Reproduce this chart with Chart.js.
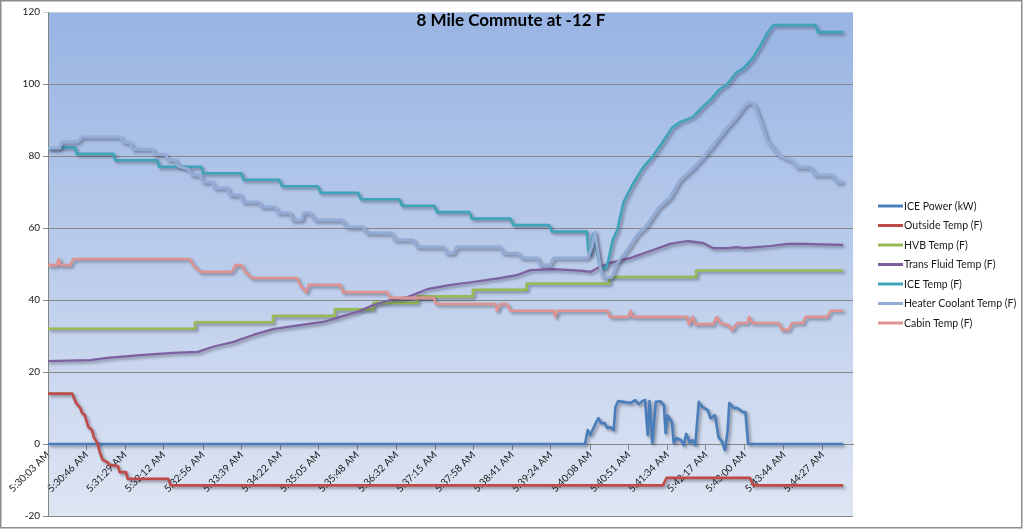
<!DOCTYPE html>
<html>
<head>
<meta charset="utf-8">
<title>8 Mile Commute at -12 F</title>
<script src="https://cdn.jsdelivr.net/npm/chart.js@4.4.1/dist/chart.umd.min.js"></script>
<style>
  html, body { margin: 0; padding: 0; background: #fff; }
  #wrap { width: 1024px; height: 530px; }
</style>
</head>
<body>
<div id="wrap"><canvas id="grafica" width="1024" height="530"></canvas></div>
<script>
// Etiquetas del eje X (hora del registro)
const tickLabels = ["5:30:03 AM", "5:30:46 AM", "5:31:29 AM", "5:32:12 AM", "5:32:56 AM", "5:33:39 AM",
  "5:34:22 AM", "5:35:05 AM", "5:35:48 AM", "5:36:32 AM", "5:37:15 AM", "5:37:58 AM", "5:38:41 AM",
  "5:39:24 AM", "5:40:08 AM", "5:40:51 AM", "5:41:34 AM", "5:42:17 AM", "5:43:00 AM", "5:43:44 AM", "5:44:27 AM"];

const seriesNames = ["ICE Power (kW)", "Outside Temp (F)", "HVB Temp (F)", "Trans Fluid Temp (F)",
  "ICE Temp (F)", "Heater Coolant Temp (F)", "Cabin Temp (F)"];

// Datos: [segundos desde 5:30:03, valor]
const icePower = [[0, 0], [599, 0], [602, 3.9], [605, 2.5], [610, 5.3], [614, 7.2], [617, 5.8], [621, 5.8],
  [624, 4.4], [627, 4.7], [631, 3.9], [633, 10.3], [636, 11.9], [642, 11.7], [650, 11.4], [655, 12.2],
  [659, 11.1], [663, 11.9], [666, 12.2], [669, 2.5], [671, 11.9], [674, 0.3], [678, 11.7], [683, 11.9],
  [687, 10.8], [689, 3], [691, 8], [696, 6.1], [698, 0.3], [701, 1.7], [706, 1.1], [709, -0.3], [712, 2.8],
  [716, 0.3], [719, 1.1], [722, -0.3], [726, 11.7], [730, 10.3], [736, 9.4], [739, 7.2], [744, 8],
  [748, 1.9], [752, 0.6], [755, -1.7], [758, 3.3], [760, 11.4], [765, 10], [769, 10], [775, 8.9],
  [778, 8.9], [781, 0], [887, 0]];

const outsideTemp = [[0, 14], [27, 14], [31, 11.5], [36, 10], [38, 8.6], [41, 8], [45, 4.7], [49, 3.9],
  [51, 1.9], [55, 0.3], [58, -2.5], [61, -4.4], [66, -5], [69, -5.8], [78, -6.1], [80, -7.8], [87, -7.8],
  [89, -9.7], [134, -9.7], [137, -11.5], [686, -11.5], [690, -9.4], [783, -9.4], [787, -11.5], [887, -11.5]];

const hvbTemp = [[0, 32], [164, 33.8], [251, 35.6], [320, 37.4], [363, 39.2], [412, 41], [474, 42.8],
  [534, 44.6], [626, 46.4], [723, 48.2], [887, 48.2]];

const transFluidTemp = [[0, 23], [47, 23.3], [66, 23.9], [103, 24.7], [140, 25.3], [167, 25.6], [184, 27],
  [206, 28.3], [229, 30.3], [251, 31.9], [281, 33], [307, 33.9], [326, 35.3], [345, 36.7], [363, 38.6],
  [382, 40], [401, 40.8], [423, 43], [449, 44.2], [474, 45], [504, 46.1], [523, 46.9], [538, 48.3],
  [564, 48.6], [597, 48.1], [605, 47.8], [613, 48.9], [627, 50.3], [650, 51.7], [675, 53.9], [694, 55.6],
  [713, 56.4], [731, 55.8], [742, 54.4], [758, 54.4], [769, 54.7], [776, 54.4], [806, 55], [825, 55.6],
  [843, 55.6], [887, 55.3]];

const iceTemp = [[0, 82], [12, 82], [14, 82.4], [30, 82.4], [32, 80.6], [73, 80.6], [75, 78.8],
  [122, 78.8], [124, 77], [171, 77], [173, 75.2], [216, 75.2], [218, 73.4], [258, 73.4], [261, 71.6],
  [301, 71.6], [304, 69.8], [346, 69.8], [349, 68], [392, 68], [395, 66.2], [431, 66.2], [434, 64.4],
  [470, 64.4], [473, 62.6], [516, 62.6], [519, 60.8], [559, 60.8], [562, 59], [601, 59], [603, 53.3],
  [605, 52.5], [608, 58.3], [613, 52.5], [616, 49.4], [622, 48.6], [625, 51], [630, 56.7], [635, 59.4],
  [642, 67.2], [653, 72.5], [664, 76.9], [674, 79.7], [685, 83.6], [696, 87.8], [705, 89.4], [719, 90.8],
  [730, 93.6], [739, 95.6], [748, 98.3], [758, 100], [767, 103], [776, 104.4], [786, 107.2], [795, 110.8],
  [803, 114.4], [809, 116.4], [856, 116.4], [859, 114.4], [887, 114.4]];

const heaterCoolantTemp = [[0, 82.2], [13, 82.2], [15, 83.9], [33, 83.9], [38, 85.3], [80, 85.3],
  [84, 83.9], [92, 83.6], [95, 81.9], [116, 81.9], [119, 80.4], [131, 80.4], [134, 78.9], [142, 78.9],
  [145, 77.2], [156, 76.4], [161, 74.7], [170, 74.7], [173, 72.8], [183, 72.8], [186, 71.1], [200, 71.1],
  [203, 69.2], [214, 69.2], [218, 67.2], [234, 67.2], [239, 65.8], [253, 65.8], [257, 64.2], [270, 64.2],
  [273, 62.2], [283, 62.2], [285, 64.2], [292, 64.2], [298, 62.2], [328, 62.2], [333, 60.3], [351, 60.3],
  [356, 58.6], [383, 58.6], [387, 56.7], [407, 56.7], [412, 54.7], [441, 54.7], [445, 53], [452, 53],
  [456, 54.7], [504, 54.7], [508, 53], [524, 53], [529, 51.7], [546, 51.7], [549, 49.7], [560, 49.7],
  [564, 51.7], [602, 51.7], [607, 55], [610, 58.9], [616, 49.2], [619, 46.4], [624, 46.1], [629, 46.4],
  [635, 50.3], [646, 53.9], [657, 58], [668, 60.8], [681, 65.6], [694, 68.6], [705, 73.3], [720, 76.7],
  [731, 79.7], [742, 83], [755, 87.2], [767, 90.6], [776, 93.6], [780, 94.7], [786, 94.7], [789, 93.6],
  [797, 88.1], [802, 84.4], [809, 82.2], [815, 80.3], [822, 79.4], [828, 78.9], [836, 76.9], [850, 76.9],
  [856, 74.7], [874, 74.7], [880, 72.8], [887, 72.8]];

const cabinTemp = [[0, 49.7], [10, 49.7], [12, 51.4], [14, 49.7], [25, 49.7], [28, 51.4], [158, 51.4],
  [162, 49.7], [170, 47.8], [205, 47.8], [209, 49.7], [216, 49.7], [220, 47.8], [228, 46.1], [278, 46.1],
  [281, 44.2], [288, 42.2], [291, 44.2], [326, 44.2], [329, 42.2], [378, 42.2], [382, 40.6], [430, 40.6],
  [433, 38.9], [499, 38.9], [501, 37], [504, 38.9], [512, 38.9], [516, 37], [564, 37], [566, 35.3],
  [568, 37], [624, 37], [627, 35.3], [647, 35.3], [650, 37], [652, 35.3], [713, 35.3], [715, 33.3],
  [719, 35.3], [722, 33.3], [742, 33.3], [746, 35.3], [750, 33.6], [759, 33], [763, 31.7], [769, 33.6],
  [780, 33.6], [782, 35.3], [786, 33.6], [815, 33.6], [819, 31.7], [826, 31.7], [830, 33.6], [842, 33.6],
  [845, 35.3], [869, 35.3], [873, 37], [887, 37]];

const seriesColors = ["#4a7ebb", "#be4b48", "#98b954", "#7d60a0", "#3fa4b9", "#93acd6", "#dc9391"];

function aSegundos(label) {
  const [h, m, s] = label.split(" ")[0].split(":").map(Number);
  return h * 3600 + m * 60 + s;
}
const tickSeconds = tickLabels.map(l => aSegundos(l) - aSegundos(tickLabels[0]));

const allSeries = [icePower, outsideTemp, hvbTemp, transFluidTemp, iceTemp, heaterCoolantTemp, cabinTemp];

const datasets = allSeries.map((serie, i) => ({
  label: seriesNames[i],
  data: serie,
  borderColor: seriesColors[i],
  backgroundColor: seriesColors[i],
  borderWidth: i === 3 ? 2.2 : (i === 5 ? 3 : 2.6),
  pointRadius: 0,
  tension: 0,
  stepped: i === 2 ? true : false,
  borderJoinStyle: "round",
  order: allSeries.length - i,
}));

// Fondo con degradado, marco y sombra de líneas (estilo Excel)
const estiloExcel = {
  id: "estiloExcel",
  beforeDraw(chart) {
    const { ctx, chartArea: a } = chart;
    ctx.save();
    ctx.fillStyle = "#fff";
    ctx.fillRect(0, 0, chart.width, chart.height);
    ctx.strokeStyle = "#8c8c8c";
    ctx.lineWidth = 1.5;
    ctx.strokeRect(0.75, 0.75, 1021, 527);
    const grad = ctx.createLinearGradient(0, a.top, 0, a.bottom);
    grad.addColorStop(0, "#98b4e3");
    grad.addColorStop(1, "#dee5f3");
    ctx.fillStyle = grad;
    ctx.fillRect(a.left, a.top, a.right - a.left, a.bottom - a.top);
    ctx.restore();
  },
  beforeDatasetsDraw(chart) {
    const ctx = chart.ctx;
    ctx.save();
    ctx.shadowColor = "rgba(40, 40, 60, 0.45)";
    ctx.shadowBlur = 3;
    ctx.shadowOffsetX = 2;
    ctx.shadowOffsetY = 2;
  },
  afterDatasetsDraw(chart) {
    chart.ctx.restore();
  },
  afterDraw(chart) {
    const ctx = chart.ctx;
    ctx.save();
    // título
    ctx.fillStyle = "#000";
    ctx.font = "bold 17px Lato";
    ctx.textAlign = "center";
    ctx.textBaseline = "middle";
    ctx.fillText("8 Mile Commute at -12 F", 511, 21);
    // leyenda
    ctx.font = "10.5px Lato";
    ctx.textAlign = "left";
    chart.data.datasets.forEach((ds, i) => {
      const y = 206 + i * 19.5;
      ctx.strokeStyle = ds.borderColor;
      ctx.lineWidth = 3;
      ctx.beginPath();
      ctx.moveTo(878, y);
      ctx.lineTo(903, y);
      ctx.stroke();
      ctx.fillStyle = "#1a1a1a";
      ctx.fillText(ds.label, 904, y + 0.5);
    });
    ctx.restore();
  }
};

Chart.defaults.font.family = "Lato";
Chart.defaults.font.size = 10;

const ctx = document.getElementById("grafica").getContext("2d");
const grafica = new Chart(ctx, {
  type: "line",
  data: { datasets },
  options: {
    responsive: false,
    animation: false,
    layout: { padding: { left: 0, top: 12, right: 171, bottom: 14 } },
    plugins: {
      legend: { display: false },
      tooltip: { enabled: false },
    },
    scales: {
      x: {
        type: "linear",
        position: { y: 0 },
        min: 0,
        max: 898,
        grid: { drawOnChartArea: false, drawTicks: true, tickLength: 5, color: "#868686" },
        border: { color: "#868686" },
        afterBuildTicks: (scale) => {
          scale.ticks = tickSeconds.map(v => ({ value: v }));
        },
        ticks: {
          autoSkip: false,
          minRotation: 45,
          maxRotation: 45,
          padding: 0,
          color: "#1a1a1a",
          font: { size: 10 },
          callback: (value, index) => tickLabels[index],
        },
      },
      y: {
        min: -20,
        max: 120,
        afterFit: (scale) => { scale.width = 48; },
        grid: {
          color: (c) => (c.tick && c.tick.value === 120 ? "#c5cfe0" : "#868686"),
          tickLength: 5,
        },
        border: { color: "#868686" },
        ticks: { stepSize: 20, padding: 3, color: "#1a1a1a", font: { size: 10 } },
      },
    },
  },
  plugins: [estiloExcel],
});
</script>
</body>
</html>
